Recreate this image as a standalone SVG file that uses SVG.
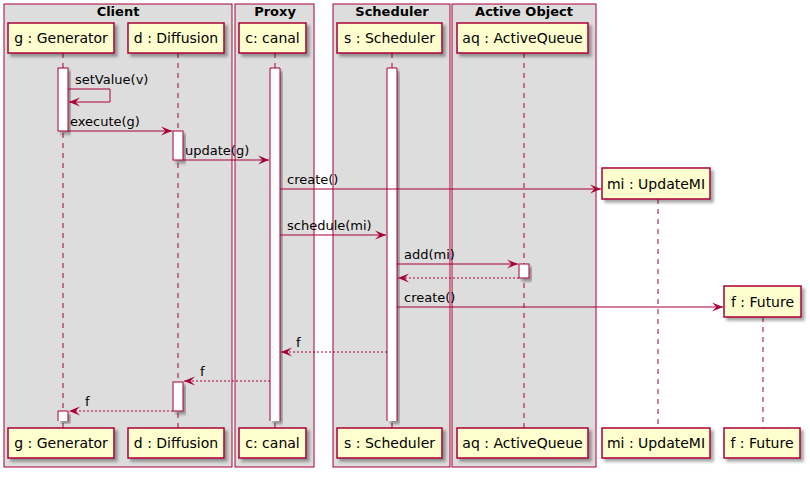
<svg xmlns="http://www.w3.org/2000/svg" width="810" height="477" viewBox="0 0 810 477">
<defs>
<filter id="sh" x="-20%" y="-20%" width="150%" height="150%">
<feGaussianBlur in="SourceAlpha" stdDeviation="1.5" result="b"/>
<feOffset in="b" dx="3" dy="3" result="o"/>
<feFlood flood-color="#000" flood-opacity="0.35"/>
<feComposite in2="o" operator="in" result="s"/>
<feMerge><feMergeNode in="s"/><feMergeNode in="SourceGraphic"/></feMerge>
</filter>
<marker id="ar" markerUnits="userSpaceOnUse" markerWidth="12" markerHeight="10" refX="11" refY="4.5" orient="auto" viewBox="0 0 12 9">
<path d="M0,0 L11,4.5 L0,9 L4.5,4.5 Z" fill="#A80036"/>
</marker>
</defs>
<style>
.grp{fill:#DDDDDD;stroke:#A80036;stroke-width:1}
.gt{font-family:"DejaVu Sans",sans-serif;font-size:13px;font-weight:bold;text-anchor:middle;fill:#000}
.pb{fill:#FEFECE;stroke:#A80036;stroke-width:1.5;filter:url(#sh)}
.pt{font-family:"DejaVu Sans",sans-serif;font-size:14px;text-anchor:middle;fill:#000}
.ll{stroke:#A80036;stroke-width:1;stroke-dasharray:5,5;fill:none}
.act{fill:#FFFFFF;stroke:#A80036;stroke-width:1;filter:url(#sh)}
.actf{fill:#FFFFFF;stroke:none;filter:url(#sh)}
.acto{fill:none;stroke:#A80036;stroke-width:1}
.m{stroke:#A80036;stroke-width:1;fill:none;marker-end:url(#ar)}
.r{stroke:#A80036;stroke-width:1;fill:none;stroke-dasharray:2,2;marker-end:url(#ar)}
.mt{font-family:"DejaVu Sans",sans-serif;font-size:13px;fill:#000}
</style>
<g id="groups">
<rect class="grp" x="4" y="4" width="228" height="463"/>
<text class="gt" x="118" y="16">Client</text>
<rect class="grp" x="235" y="4" width="79" height="463"/>
<text class="gt" x="275" y="16">Proxy</text>
<rect class="grp" x="333" y="4" width="117" height="463"/>
<text class="gt" x="392" y="16">Scheduler</text>
<rect class="grp" x="452" y="4" width="144" height="463"/>
<text class="gt" x="524" y="16">Active Object</text>
</g>
<g id="lifelines">
<line class="ll" x1="63" y1="53" x2="63" y2="428"/>
<line class="ll" x1="178" y1="53" x2="178" y2="428"/>
<line class="ll" x1="275" y1="53" x2="275" y2="428"/>
<line class="ll" x1="392" y1="53" x2="392" y2="428"/>
<line class="ll" x1="524" y1="53" x2="524" y2="428"/>
<line class="ll" x1="658" y1="199" x2="658" y2="428"/>
<line class="ll" x1="763" y1="317" x2="763" y2="428"/>
</g>
<g id="g">
<rect class="pb" x="8" y="23" width="106" height="30"/>
<text class="pt" x="61" y="43">g : Generator</text>
<rect class="pb" x="8" y="428" width="106" height="30"/>
<text class="pt" x="61" y="448">g : Generator</text>
</g>
<g id="d">
<rect class="pb" x="128" y="23" width="96" height="30"/>
<text class="pt" x="176" y="43">d : Diffusion</text>
<rect class="pb" x="128" y="428" width="96" height="30"/>
<text class="pt" x="176" y="448">d : Diffusion</text>
</g>
<g id="c">
<rect class="pb" x="239" y="23" width="67" height="30"/>
<text class="pt" x="272.5" y="43">c: canal</text>
<rect class="pb" x="239" y="428" width="67" height="30"/>
<text class="pt" x="272.5" y="448">c: canal</text>
</g>
<g id="s">
<rect class="pb" x="337" y="23" width="105" height="30"/>
<text class="pt" x="389.5" y="43">s : Scheduler</text>
<rect class="pb" x="337" y="428" width="105" height="30"/>
<text class="pt" x="389.5" y="448">s : Scheduler</text>
</g>
<g id="aq">
<rect class="pb" x="457" y="23" width="131" height="30"/>
<text class="pt" x="522.5" y="43">aq : ActiveQueue</text>
<rect class="pb" x="457" y="428" width="131" height="30"/>
<text class="pt" x="522.5" y="448">aq : ActiveQueue</text>
</g>
<g id="mi">
<rect class="pb" x="602" y="168" width="108" height="31"/>
<text class="pt" x="656" y="189">mi : UpdateMI</text>
<rect class="pb" x="602" y="428" width="108" height="30"/>
<text class="pt" x="656" y="448">mi : UpdateMI</text>
</g>
<g id="f">
<rect class="pb" x="724" y="286" width="77" height="31"/>
<text class="pt" x="762.5" y="307">f : Future</text>
<rect class="pb" x="724" y="428" width="76" height="30"/>
<text class="pt" x="762" y="448">f : Future</text>
</g>
<g id="activations">
<rect class="act" x="58" y="68" width="10" height="63"/>
<rect class="actf" x="58" y="411" width="10" height="10"/>
<path class="acto" d="M58,421 L58,411 L68,411 L68,421"/>
<rect class="act" x="173" y="131" width="10" height="29"/>
<rect class="act" x="173" y="382" width="10" height="29"/>
<rect class="actf" x="270" y="68" width="10" height="353"/>
<path class="acto" d="M270,421 L270,68 L280,68 L280,421"/>
<rect class="actf" x="387" y="68" width="10" height="353"/>
<path class="acto" d="M387,421 L387,68 L397,68 L397,421"/>
<rect class="act" x="519" y="264" width="10" height="14"/>
</g>
<g id="connectors">
<path class="m" d="M68,89 L110,89 L110,102 L69,102"/>
<text class="mt" x="75" y="84">setValue(v)</text>
<line class="m" x1="68" y1="131" x2="172" y2="131"/>
<text class="mt" x="70" y="126">execute(g)</text>
<line class="m" x1="183" y1="160" x2="269" y2="160"/>
<text class="mt" x="185" y="155">update(g)</text>
<line class="m" x1="280" y1="189" x2="601" y2="189"/>
<text class="mt" x="287" y="184">create()</text>
<line class="m" x1="280" y1="235" x2="386" y2="235"/>
<text class="mt" x="287" y="230">schedule(mi)</text>
<line class="m" x1="397" y1="264" x2="518" y2="264"/>
<text class="mt" x="404" y="259">add(mi)</text>
<line class="r" x1="519" y1="278" x2="398" y2="278"/>
<line class="m" x1="397" y1="307" x2="723" y2="307"/>
<text class="mt" x="404" y="302">create()</text>
<line class="r" x1="387" y1="352" x2="281" y2="352"/>
<text class="mt" x="296" y="347">f</text>
<line class="r" x1="270" y1="381" x2="184" y2="381"/>
<text class="mt" x="200" y="376">f</text>
<line class="r" x1="173" y1="411" x2="69" y2="411"/>
<text class="mt" x="85" y="406">f</text>
</g>
</svg>
